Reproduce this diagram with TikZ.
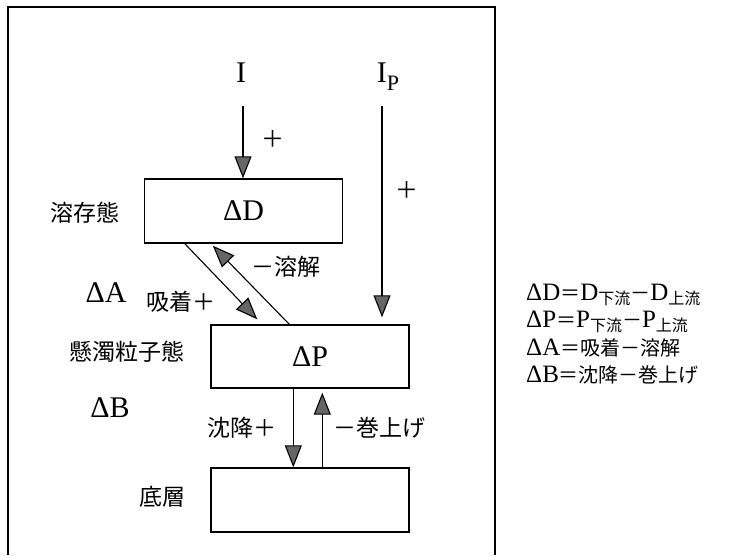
\documentclass[tikz,border=0pt]{standalone}
\usepackage{fontspec}
\setmainfont{Liberation Serif}
\newfontfamily\jp{Noto Sans CJK JP}
\usetikzlibrary{arrows.meta,calc}
\begin{document}
\begin{tikzpicture}[x=1pt,y=-1pt,
  box/.style={draw,line width=1.4pt,inner sep=0pt,minimum width=198pt,minimum height=64pt},
  flow/.style={line width=1.1pt,-{Triangle[width=17pt,length=22pt,fill=black!60]}},
  lat/.style={font=\fontsize{30}{30}\selectfont},
  jlab/.style={font=\jp\fontsize{23}{23}\selectfont},
  eq/.style={font=\fontsize{25}{25}\selectfont, anchor=base west, inner sep=0pt}
]
\useasboundingbox (0,0) rectangle (731,555);
\draw[line width=2pt] (8,555) -- (8,7) -- (495,7) -- (495,555);

% boxes
\node[box,lat] (D) at (243.5,211) {ΔD};
\node[box,lat,minimum height=63pt] (P) at (310,356.5) {ΔP};
\node[box] (B) at (310,500) {};

% sources
\node[lat,anchor=base] (I) at (241,82) {I};
\node[lat,anchor=base] (IP) at (388,82) {I\raisebox{-8pt}{\fontsize{22}{22}\selectfont P}};
\coordinate (Is) at (243,106);
\coordinate (IPs) at (382,106);
\draw[flow] (Is) -- (Is |- D.north);
\draw[flow,shorten >=7pt] (IPs) -- (IPs |- P.north);

% exchange D <-> P
\coordinate (a1) at ($(D.south west)+(41,0)$);
\coordinate (a2) at ($(P.north west)+(47,-5)$);
\coordinate (d1) at ($(P.north west)+(79,0)$);
\coordinate (d2) at ($(D.south west)+(69,2)$);
\draw[flow] (a1) -- (a2);
\draw[flow] (d1) -- (d2);

% exchange P <-> B
\coordinate (s1) at ($(P.south west)+(83,0)$);
\coordinate (r1) at ($(B.north west)+(112,0)$);
\draw[flow] (s1) -- (s1 |- B.north);
\draw[flow,shorten >=4pt] (r1) -- (r1 |- P.south);

% labels
\node[jlab] (lD) at (85,213) {溶存態};
\node[jlab] (lP) at (127,352) {懸濁粒子態};
\node[jlab] (lB) at (162,497) {底層};
\node[lat,anchor=base] (dA) at (106,302) {ΔA};
\node[lat,anchor=base] (dB) at (110,417) {ΔB};
\node[jlab] (ads) at (181,302) {吸着＋};
\node[jlab] (dis) at (286,267) {－溶解};
\node[jlab] (sed) at (242,428) {沈降＋};
\node[jlab] (res) at (379,428) {－巻上げ};
\node[jlab] (pI) at (273,139) {＋};
\node[jlab] (pIP) at (407,190) {＋};

% equations
\newcommand{\subjp}[1]{\raisebox{-4pt}{\jp\fontsize{16}{16}\selectfont #1}}
\newcommand{\eqjp}[1]{{\jp\fontsize{20}{20}\selectfont #1}}
\node[eq] (e1) at (526,300) {ΔD\eqjp{＝}D\subjp{下流}\eqjp{－}D\subjp{上流}};
\node[eq] (e2) at (526,327.5) {ΔP\eqjp{＝}P\subjp{下流}\eqjp{－}P\subjp{上流}};
\node[eq] (e3) at (526,355) {ΔA\eqjp{＝吸着－溶解}};
\node[eq] (e4) at (526,382.5) {ΔB\eqjp{＝沈降－巻上げ}};
\end{tikzpicture}
\end{document}
